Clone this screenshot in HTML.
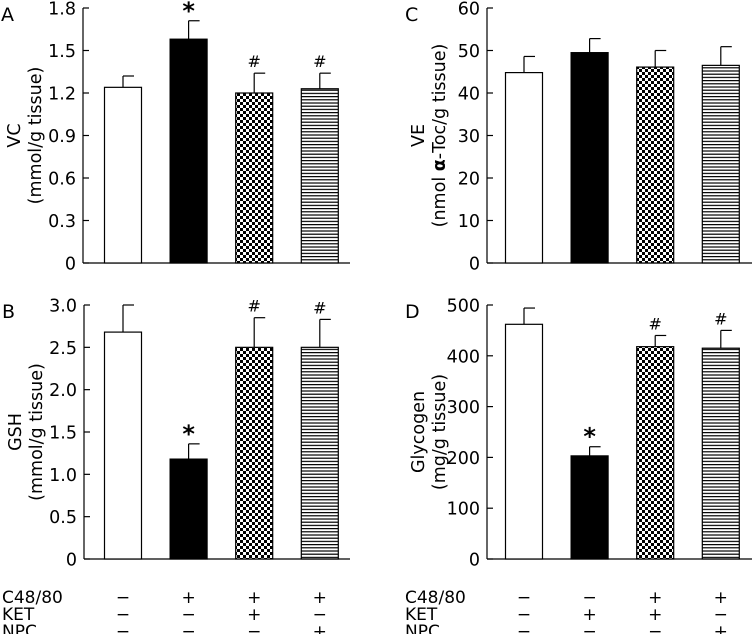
<!DOCTYPE html>
<html><head><meta charset="utf-8"><style>
body{margin:0;background:#fff}
svg{display:block;font-family:"DejaVu Sans","Liberation Sans",sans-serif}
</style></head><body>
<svg id="c" width="754" height="634" viewBox="0 0 754 634" xmlns="http://www.w3.org/2000/svg">
<defs>
<pattern id="chk" width="6" height="6" patternUnits="userSpaceOnUse"><rect width="6" height="6" fill="#fff"/><rect width="3" height="3" fill="#000"/><rect x="3" y="3" width="3" height="3" fill="#000"/></pattern>
<pattern id="hl" width="6" height="3.2" patternUnits="userSpaceOnUse"><rect width="6" height="3.2" fill="#fff"/><rect y="0" width="6" height="1.2" fill="#000"/></pattern>
</defs>
</svg>
<script>
const groups=['control','C48/80','C48/80+KET','C48/80+NPC'];
const vcVals=[1.24,1.58,1.20,1.23];
const vcErr=[0.08,0.13,0.14,0.11];
const vcMarks=['','*','#','#'];
const veVals=[44.8,49.5,46.1,46.5];
const veErr=[3.8,3.3,3.9,4.4];
const veMarks=['','','',''];
const gshVals=[2.68,1.18,2.50,2.50];
const gshErr=[0.32,0.18,0.35,0.33];
const gshMarks=['','*','#','#'];
const glyVals=[462,203,418,415];
const glyErr=[32,18,22,35];
const glyMarks=['','*','#','#'];
const vcTicks=['0','0.3','0.6','0.9','1.2','1.5','1.8'];
const veTicks=['0','10','20','30','40','50','60'];
const gshTicks=['0','0.5','1.0','1.5','2.0','2.5','3.0'];
const glyTicks=['0','100','200','300','400','500'];
const rowB=[['C48/80',['−','+','+','+']],['KET',['−','−','+','−']],['NPC',['−','−','−','+']]];
const rowD=[['C48/80',['−','−','+','+']],['KET',['−','+','+','−']],['NPC',['−','−','−','+']]];

const svg=document.getElementById('c');
const NS='http://www.w3.org/2000/svg';
function mk(t,a,p){const e=document.createElementNS(NS,t);for(const k in a)e.setAttribute(k,a[k]);(p||svg).appendChild(e);return e;}
const fills=['#fff','#000','url(#chk)','url(#hl)'];
function panel(o){
  const g=mk('g',{});
  
  
  const max=parseFloat(o.ticks[o.ticks.length-1]);
  const y=v=>o.y0-(v/max)*(o.y0-o.yTop);
  const bw=37;
  const cx=i=>o.ax+o.off+i*65.6;
  const ya=mk('line',{x1:o.ax,y1:o.yTop,x2:o.ax,y2:o.y0,stroke:'#000','stroke-width':1.2},g);
  
  const xa=mk('line',{x1:o.ax,y1:o.y0,x2:o.xEnd,y2:o.y0,stroke:'#000','stroke-width':1.2},g);
  
  o.ticks.forEach(t=>{const v=parseFloat(t);const yy=y(v);
    mk('line',{x1:o.ax,y1:yy,x2:o.ax+6,y2:yy,stroke:'#000','stroke-width':1.2},g);
    const tx=mk('text',{x:o.ax-7,y:yy+6.5,'text-anchor':'end','font-size':17.5},g);
    tx.textContent=t;});
  o.vals.forEach((v,i)=>{
    const x=cx(i)-bw/2, top=y(v);
    const et=y(v+o.err[i]);
    mk('line',{x1:cx(i),y1:top,x2:cx(i),y2:et,stroke:'#000','stroke-width':1.2},g);
    mk('line',{x1:cx(i),y1:et,x2:cx(i)+11,y2:et,stroke:'#000','stroke-width':1.2},g);
    const r=mk('rect',{x:x,y:top,width:bw,height:o.y0-top,fill:fills[i],stroke:'#000','stroke-width':1.2},g);
    
    if(o.marks[i]){const m=mk('text',{x:cx(i),y:et-(o.marks[i]=='*'?2:6),'text-anchor':'middle','font-size':o.marks[i]=='*'?24:16,'font-weight':o.marks[i]=='*'?'bold':'normal'},g);
      m.textContent=o.marks[i];}
  });
  const L=mk('text',{x:o.ax-82,y:o.yTop+13,'font-size':19},g);
  L.textContent=o.letter;
  const mid=(o.yTop+o.y0)/2;
  const t1=mk('text',{x:0,y:0,'text-anchor':'middle','font-size':17.5,transform:`translate(${o.ax-63},${mid}) rotate(-90)`},g);
  t1.textContent=o.t1;
  const t2=mk('text',{x:0,y:0,'text-anchor':'middle','font-size':17.5,transform:`translate(${o.ax-42},${mid}) rotate(-90)`},g);
  t2.innerHTML=o.t2;
  if(o.rows){o.rows.forEach((r,ri)=>{const yy=603+ri*17;
    const lb=mk('text',{x:o.ax-82,y:yy,'font-size':17},g);
    lb.textContent=r[0];
    r[1].forEach((s,i)=>{const st=mk('text',{x:cx(i),y:yy,'text-anchor':'middle','font-size':17},g);
      st.textContent=s;});});}
}
panel({letter:'A',ax:83,off:40,xEnd:350,yTop:8,y0:263,ticks:vcTicks,vals:vcVals,err:vcErr,marks:vcMarks,t1:'VC',t2:'(mmol/g tissue)'});
panel({letter:'C',ax:487,off:37,xEnd:752,yTop:8,y0:263,ticks:veTicks,vals:veVals,err:veErr,marks:veMarks,t1:'VE',t2:'(nmol <tspan font-weight="bold">α</tspan>-Toc/g tissue)'});
panel({letter:'B',ax:84,off:39,xEnd:350,yTop:305,y0:559,ticks:gshTicks,vals:gshVals,err:gshErr,marks:gshMarks,t1:'GSH',t2:'(mmol/g tissue)',rows:rowB});
panel({letter:'D',ax:487,off:37,xEnd:752,yTop:305,y0:559,ticks:glyTicks,vals:glyVals,err:glyErr,marks:glyMarks,t1:'Glycogen',t2:'(mg/g tissue)',rows:rowD});
</script>
</body></html>
